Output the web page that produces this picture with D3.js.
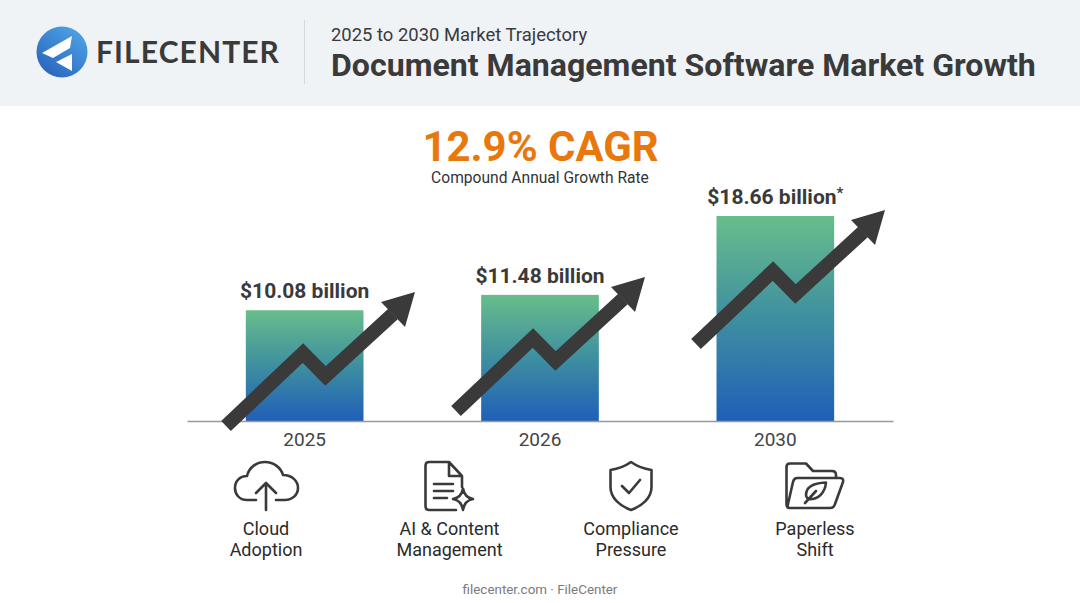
<!DOCTYPE html>
<html>
<head>
<meta charset="utf-8">
<style>
  html, body { margin: 0; padding: 0; background: #fff; }
  svg { display: block; }
  text { font-family: Roboto, sans-serif; }
</style>
</head>
<body>
<svg id="chart"></svg>
<script src="https://cdn.jsdelivr.net/npm/d3@7"></script>
<script>
const years = ["2025", "2026", "2030"];
const values = [10.08, 11.48, 18.66];
const valueLabels = ["$10.08 billion", "$11.48 billion", "$18.66 billion"];
const driverLines = [["Cloud", "Adoption"], ["AI & Content", "Management"], ["Compliance", "Pressure"], ["Paperless", "Shift"]];

const width = 1080;
const height = 603;
const dark = "#3a3a3a";

const svg = d3.select("#chart").attr("width", width).attr("height", height);

// Gradients
const defs = svg.append("defs");
const barGrad = defs.append("linearGradient").attr("id", "barGrad")
  .attr("x1", 0).attr("y1", 0).attr("x2", 0).attr("y2", 1);
barGrad.append("stop").attr("offset", "0%").attr("stop-color", "#68bd8b");
barGrad.append("stop").attr("offset", "50%").attr("stop-color", "#3e8fa0");
barGrad.append("stop").attr("offset", "100%").attr("stop-color", "#205fb8");
const logoGrad = defs.append("linearGradient").attr("id", "logoGrad")
  .attr("x1", 0.8).attr("y1", 0.1).attr("x2", 0.2).attr("y2", 0.9);
logoGrad.append("stop").attr("offset", "0%").attr("stop-color", "#4c9fe2");
logoGrad.append("stop").attr("offset", "100%").attr("stop-color", "#2b68bf");

// Header band
svg.append("rect").attr("width", width).attr("height", 106).attr("fill", "#eff3f6");
svg.append("circle").attr("cx", 62).attr("cy", 52).attr("r", 25.5).attr("fill", "url(#logoGrad)");
svg.append("path").attr("d", "M72 36 L42 53 L53 58 L70 48 Z M56 62 L72 54 L72 71 Z").attr("fill", "#fff");
svg.append("text").attr("x", 96).attr("y", 63).attr("font-size", 30).attr("font-weight", 700)
  .attr("letter-spacing", 1.1).style("font-family", "Lato, sans-serif").attr("fill", dark).text("FILECENTER");
svg.append("line").attr("x1", 304.5).attr("x2", 304.5).attr("y1", 20).attr("y2", 84).attr("stroke", "#d5d9dd");
svg.append("text").attr("x", 331).attr("y", 41).attr("font-size", 18.45).attr("fill", dark)
  .text("2025 to 2030 Market Trajectory");
svg.append("text").attr("x", 331).attr("y", 76).attr("font-size", 32.1).attr("font-weight", 700).attr("fill", dark)
  .text("Document Management Software Market Growth");

// CAGR heading
svg.append("text").attr("x", 540.5).attr("y", 161).attr("text-anchor", "middle")
  .attr("font-size", 41.9).attr("font-weight", 700).attr("fill", "#e8770e").text("12.9% CAGR");
svg.append("text").attr("x", 540).attr("y", 183).attr("text-anchor", "middle")
  .attr("font-size", 15.6).attr("fill", "#333").text("Compound Annual Growth Rate");

// Scales
const x = d3.scaleBand().domain(years).range([187, 893]).paddingInner(0.5).paddingOuter(0.25);
const y = d3.scaleLinear().domain([0, 18.66]).range([421, 216]);

// Bars
svg.selectAll("rect.bar")
  .data(values)
  .join("rect")
  .attr("class", "bar")
  .attr("x", (d, i) => x(years[i]))
  .attr("y", d => y(d))
  .attr("width", x.bandwidth())
  .attr("height", d => y(0) - y(d))
  .attr("fill", "url(#barGrad)");

// X axis
const axis = svg.append("g")
  .attr("transform", `translate(0,${y(0)})`)
  .call(d3.axisBottom(x).tickSize(0).tickPadding(12));
axis.select(".domain").attr("stroke", "#999").attr("stroke-width", 1.3);
axis.selectAll("text").attr("font-size", 19).attr("fill", "#444").style("font-family", "Roboto, sans-serif");

// Value labels
const labels = svg.selectAll("text.value")
  .data(valueLabels)
  .join("text")
  .attr("class", "value")
  .attr("x", (d, i) => x(years[i]) + x.bandwidth() / 2)
  .attr("y", (d, i) => y(values[i]) - 12)
  .attr("text-anchor", "middle")
  .attr("font-size", 21)
  .attr("font-weight", 700)
  .attr("fill", dark)
  .text(d => d);
labels.filter((d, i) => i === 2).append("tspan")
  .attr("font-size", 15).attr("dy", -6).text("*");

// Zigzag growth arrows, same shape placed over each bar
const arrowAt = [[226, 426], [456, 411], [696, 344]];
const shaft = [[0, 0], [77, -73], [99.5, -50], [167, -112]];
const head = [[189, -134], [155, -124], [179, -99]];
const line = d3.line();
const arrows = svg.selectAll("g.arrow")
  .data(arrowAt)
  .join("g")
  .attr("class", "arrow")
  .attr("transform", d => `translate(${d[0]},${d[1]})`);
arrows.append("path").attr("d", line(shaft)).attr("fill", "none")
  .attr("stroke", dark).attr("stroke-width", 14).attr("stroke-linejoin", "miter");
arrows.append("path").attr("d", line(head) + "Z").attr("fill", dark);

// Driver icons
const iconPaths = [
  "M256 500 H247 C239 500 235 494 235 488 C235 481 240 476 247 476 C249 467 257 462 265 462 C274 462 281 468 283 475 C292 475 298 481 298 488 C298 495 292 500 285 500 H276 M266 510 V483 M256 493 L266 483 L276 493",
  "M456 510 H429 Q425.5 510 425.5 506 V466 Q425.5 462 429 462 H449 L462 476 V487 M449 462 V476 H462 M434 484 H453 M434 491 H453 M434 498 H447 M463 488.5 Q464.5 497.5 473 499 Q464.5 500.5 463 510 Q461.5 500.5 453 499 Q461.5 497.5 463 488.5 Z",
  "M631 462 C624 467 617 469 610.5 470 V487 C610.5 498 620 506 631 510 C642 506 651.5 498 651.5 487 V470 C645 469 638 467 631 462 Z M622 486 L629 493 L640 480",
  "M792 508 H789.5 Q786.5 508 786.5 504 V467 Q786.5 463.5 790 463.5 H806 L813 471 H832 Q836 471 836 475 V478 M797 478 H840 Q844 478 843 482 L835 504 Q834 508 830 508 H789.5 Q787 508 788 504 L793 482 Q794 478 797 478 Z M826 482.5 C814 483 806 487 806 495 C806 497 807 498 808 499 C817 500 825 494 826 482.5 Z M805 503 L816 491"
];
svg.selectAll("path.icon")
  .data(iconPaths)
  .join("path")
  .attr("class", "icon")
  .attr("d", d => d)
  .attr("fill", "none")
  .attr("stroke", dark)
  .attr("stroke-width", 2.6)
  .attr("stroke-linejoin", "round")
  .attr("stroke-linecap", "round");

// Driver captions
const captionX = [266, 449.5, 631, 815];
const captions = svg.selectAll("text.caption")
  .data(driverLines)
  .join("text")
  .attr("class", "caption")
  .attr("text-anchor", "middle")
  .attr("font-size", 18)
  .attr("fill", "#2a2a2a");
captions.selectAll("tspan")
  .data((d, i) => d.map((t, k) => ({ t, k, cx: captionX[i] })))
  .join("tspan")
  .attr("x", d => d.cx)
  .attr("y", d => 535 + d.k * 20.5)
  .text(d => d.t);

// Footer
svg.append("text").attr("x", 540).attr("y", 594).attr("text-anchor", "middle")
  .attr("font-size", 13.4).attr("fill", "#7b7b7b").text("filecenter.com · FileCenter");
</script>
</body>
</html>
